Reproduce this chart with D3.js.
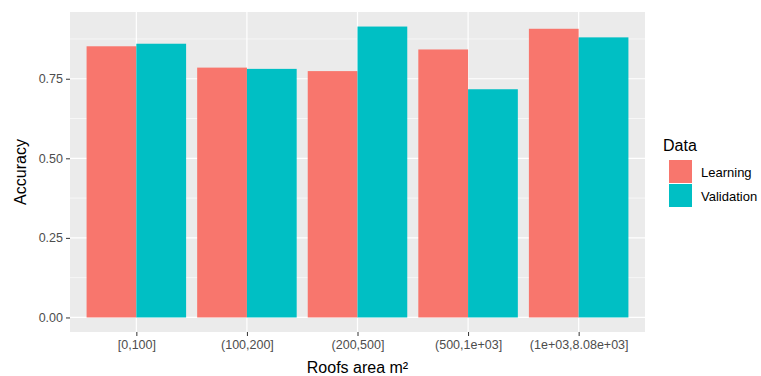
<!DOCTYPE html>
<html>
<head>
<meta charset="utf-8">
<script src="https://cdn.jsdelivr.net/npm/d3@7"></script>
<style>
  body { margin: 0; background: #fff; }
  svg { display: block; font-family: "Liberation Sans", Arial, sans-serif; }
</style>
</head>
<body>
<svg id="chart"></svg>
<script>
var categories = ["[0,100]", "(100,200]", "(200,500]", "(500,1e+03]", "(1e+03,8.08e+03]"];
var series = ["Learning", "Validation"];
var learning = [0.852, 0.785, 0.774, 0.842, 0.907];
var validation = [0.860, 0.781, 0.914, 0.717, 0.880];
var yTicks = [0, 0.25, 0.5, 0.75];
var yMinor = [0.125, 0.375, 0.625, 0.875];
var colors = ["#F8766D", "#00BFC4"];

var W = 761, H = 376,
  margin = {top: 12, left: 70, right: 116, bottom: 44},
  width = W - margin.left - margin.right,
  height = H - margin.top - margin.bottom;

var svg = d3.select("#chart").attr("width", W).attr("height", H);
var g = svg.append("g").attr("transform", "translate(" + margin.left + "," + margin.top + ")");

var rows = categories.map(function(c, i) {
  return {cat: c, values: [learning[i], validation[i]]};
});

// ggplot-like expansion
var maxV = d3.max(learning.concat(validation));
var y = d3.scaleLinear().domain([-0.05 * maxV, maxV * 1.05]).range([height, 0]);
var x = d3.scaleLinear().domain([0.4, categories.length + 0.6]).range([0, width]);
var bw = (x(1.9) - x(1)) / 2;

g.append("rect").attr("width", width).attr("height", height).attr("fill", "#EBEBEB");

g.selectAll(".minor").data(yMinor).enter().append("line")
  .attr("x1", 0).attr("x2", width)
  .attr("y1", function(d) { return y(d); }).attr("y2", function(d) { return y(d); })
  .attr("stroke", "#fff").attr("stroke-width", 0.6);

g.selectAll(".major").data(yTicks).enter().append("line")
  .attr("x1", 0).attr("x2", width)
  .attr("y1", function(d) { return y(d); }).attr("y2", function(d) { return y(d); })
  .attr("stroke", "#fff").attr("stroke-width", 1.2);

g.selectAll(".vmajor").data(categories).enter().append("line")
  .attr("x1", function(d, i) { return x(i + 1); }).attr("x2", function(d, i) { return x(i + 1); })
  .attr("y1", 0).attr("y2", height)
  .attr("stroke", "#fff").attr("stroke-width", 1.2);

var groups = g.selectAll(".grp").data(rows).enter().append("g");
groups.selectAll("rect").data(function(d, i) {
  return d.values.map(function(v, j) { return {v: v, i: i, j: j}; });
}).enter().append("rect")
  .attr("x", function(d) { return x(d.i + 1) - bw + d.j * bw; })
  .attr("width", bw)
  .attr("y", function(d) { return y(d.v); })
  .attr("height", function(d) { return y(0) - y(d.v); })
  .attr("fill", function(d) { return colors[d.j]; });

//axes
var yAxis = g.append("g").call(d3.axisLeft(y).tickValues(yTicks).tickFormat(d3.format(".2f")).tickSize(4).tickPadding(3));
yAxis.select(".domain").remove();
yAxis.selectAll("line").attr("stroke", "#333");
yAxis.selectAll("text").attr("fill", "#4D4D4D").attr("font-size", "12.5px").attr("font-family", "Liberation Sans, Arial, sans-serif");

var xAxis = g.append("g").attr("transform", "translate(0," + height + ")")
  .call(d3.axisBottom(x).tickValues(d3.range(1, categories.length + 1))
    .tickFormat(function(d) { return categories[d - 1]; }).tickSize(4).tickPadding(4));
xAxis.select(".domain").remove();
xAxis.selectAll("line").attr("stroke", "#333");
xAxis.selectAll("text").attr("fill", "#4D4D4D").attr("font-size", "12.5px").attr("font-family", "Liberation Sans, Arial, sans-serif");

svg.append("text").attr("x", margin.left + width / 2).attr("y", 373)
  .attr("text-anchor", "middle").attr("font-size", "16px").attr("fill", "#000")
  .text("Roofs area m²");

svg.append("text").attr("transform", "translate(26," + (margin.top + height / 2) + ") rotate(-90)")
  .attr("text-anchor", "middle").attr("font-size", "16px").attr("fill", "#000")
  .text("Accuracy");

// legend
var leg = svg.append("g").attr("transform", "translate(669,160)");
leg.append("text").attr("x", -6).attr("y", -9).attr("font-size", "16px").text("Data");
var items = leg.selectAll(".item").data(series).enter().append("g")
  .attr("transform", function(d, i) { return "translate(0," + i * 24 + ")"; });
items.append("rect").attr("width", 23).attr("height", 23)
  .attr("fill", function(d, i) { return colors[i]; });
items.append("text").attr("x", 32).attr("y", 12).attr("dy", "0.35em")
  .attr("font-size", "13px").attr("fill", "#000").text(function(d) { return d; });
</script>
</body>
</html>
